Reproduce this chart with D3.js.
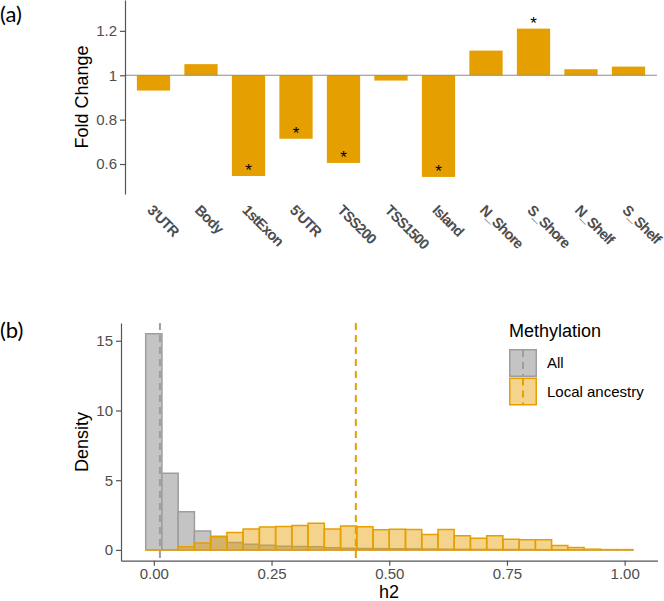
<!DOCTYPE html>
<html><head><meta charset="utf-8">
<script src="https://cdn.jsdelivr.net/npm/d3@7"></script>
<style>
html,body{margin:0;padding:0;background:#fff;}
svg{display:block;font-family:"Liberation Sans",Arial,sans-serif;}
</style></head>
<body><svg id="c" width="664" height="601"></svg>
<script>
// ---------- Panel (a) data ----------
const categories = ["3'UTR","Body","1stExon","5'UTR","TSS200","TSS1500","Island","N_Shore","S_Shore","N_Shelf","S_Shelf"];
const foldChange = [0.931,1.05,0.546,0.714,0.605,0.976,0.542,1.111,1.21,1.027,1.039];
const significant = [false,false,true,true,true,false,true,false,true,false,false];
const yTicksA = [0.6,0.8,1,1.2];
const yTickLabelsA = ["0.6","0.8","1","1.2"];

// ---------- Panel (b) data ----------
const nBins = 30;
const allDensity = [15.5,5.5,2.73,1.36,0.95,0.53,0.41,0.34,0.27,0.25,0.22,0.15,0.12,0.1,0.09,0.08,0.07,0.06,0.05,0.04,0.035,0.03,0.025,0.02,0.015,0.01,0.008,0.005,0.003,0.002];
const localDensity = [0,0.01,0.22,0.5,0.98,1.25,1.49,1.65,1.68,1.75,1.92,1.5,1.72,1.66,1.45,1.48,1.47,1.1,1.46,1.02,0.84,1.01,0.77,0.72,0.72,0.32,0.17,0.05,0.02,0.02];
const medians = {All:0.013, Local:0.429};
const xTicksB = [0,0.25,0.5,0.75,1];
const yTicksB = [0,5,10,15];
const legendLabels = ["All","Local ancestry"];

const ORANGE = "#E69F00";
const svg = d3.select("#c");

// ===== Panel (a) =====
const xA = d3.scaleBand().domain(categories).range([125,657]).paddingInner(0.3).paddingOuter(0.25);
const yA = d3.scaleLinear().domain([0.465,1.339]).range([194,0]);

svg.append("text").attr("x",0).attr("y",21.5).style("font-family","Lato, 'Open Sans', sans-serif")
  .style("font-size","22px").attr("fill","#000").text("(a)");

const gA = svg.append("g");
gA.selectAll("rect.bar").data(categories).join("rect")
  .attr("x",d=>xA(d)).attr("width",xA.bandwidth())
  .attr("y",(d,i)=>yA(Math.max(foldChange[i],1)))
  .attr("height",(d,i)=>Math.abs(yA(foldChange[i])-yA(1)))
  .attr("fill",ORANGE);

gA.append("line").attr("x1",125).attr("x2",657).attr("y1",yA(1)).attr("y2",yA(1))
  .attr("stroke","#8c8c8c").attr("stroke-width",1.2);

gA.selectAll("text.star").data(categories.filter((d,i)=>significant[i])).join("text")
  .attr("x",d=>xA(d)+xA.bandwidth()/2)
  .attr("y",d=>yA(foldChange[categories.indexOf(d)]))
  .attr("text-anchor","middle").style("font-size","17px").attr("fill","#000").text("*");

const axA = svg.append("g").attr("transform","translate(125,0)")
  .call(d3.axisLeft(yA).tickValues(yTicksA).tickFormat((d,i)=>yTickLabelsA[i]).tickSize(5).tickSizeOuter(0).tickPadding(3));
axA.select(".domain").attr("stroke","#555").attr("stroke-width",1.2);
axA.selectAll(".tick line").attr("stroke","#555").attr("stroke-width",1.2);
axA.selectAll(".tick text").attr("fill","#4D4D4D").style("font-size","15px").style("font-family","'Liberation Sans',Arial,sans-serif");

svg.append("text").attr("transform","translate(88,97) rotate(-90)").attr("text-anchor","middle")
  .style("font-size","18px").attr("fill","#000").text("Fold Change");

svg.selectAll("text.xlab").data(categories).join("text")
  .attr("transform",d=>`translate(${xA(d)+xA.bandwidth()/2-7},211) rotate(45)`)
  .attr("text-anchor","start").style("font-size","14.5px").style("font-weight","bold")
  .style("letter-spacing","-0.8px")
  .attr("fill","#4D4D4D").text(d=>d);

// ===== Panel (b) =====
const xB = d3.scaleLinear().domain([-0.0697,1.0697]).range([121,657.5]);
const yB = d3.scaleLinear().domain([-0.775,16.275]).range([560.7,323]);
const binW = 1/(nBins-1);
const binLo = i => i*binW - binW/2;
const binHi = i => i*binW + binW/2;

svg.append("text").attr("x",0).attr("y",338).style("font-family","Lato, 'Open Sans', sans-serif")
  .style("font-size","22px").attr("fill","#000").text("(b)");

function barPath(i, v){
  const p = d3.path();
  p.moveTo(xB(binLo(i)), yB(0));
  p.lineTo(xB(binLo(i)), yB(v));
  p.lineTo(xB(binHi(i)), yB(v));
  p.lineTo(xB(binHi(i)), yB(0));
  p.closePath();
  return p.toString();
}
const gB = svg.append("g");
gB.selectAll("path.all").data(allDensity).join("path")
  .attr("d",(v,i)=>barPath(i,v)).attr("fill","#C4C4C4").attr("stroke","#9E9E9E").attr("stroke-width",1.5);
gB.selectAll("path.loc").data(localDensity).join("path")
  .attr("d",(v,i)=>barPath(i,v)).attr("fill",ORANGE).attr("fill-opacity",0.45).attr("stroke",ORANGE).attr("stroke-width",1.5);

gB.append("line").attr("x1",xB(medians.All)).attr("x2",xB(medians.All)).attr("y1",323).attr("y2",560.7)
  .attr("stroke","#9E9E9E").attr("stroke-width",2).attr("stroke-dasharray","7,5");
gB.append("line").attr("x1",xB(medians.Local)).attr("x2",xB(medians.Local)).attr("y1",323).attr("y2",560.7)
  .attr("stroke",ORANGE).attr("stroke-width",2).attr("stroke-dasharray","7,5");

const axBy = svg.append("g").attr("transform","translate(121,0)")
  .call(d3.axisLeft(yB).tickValues(yTicksB).tickSize(5).tickSizeOuter(0).tickPadding(3));
const axBx = svg.append("g").attr("transform","translate(0,560.7)")
  .call(d3.axisBottom(xB).tickValues(xTicksB).tickFormat(d3.format(".2f")).tickSize(5).tickSizeOuter(0).tickPadding(3));
[axBy,axBx].forEach(a=>{
  a.select(".domain").attr("stroke","#555").attr("stroke-width",1.2);
  a.selectAll(".tick line").attr("stroke","#555").attr("stroke-width",1.2);
  a.selectAll(".tick text").attr("fill","#4D4D4D").style("font-size","15px").style("font-family","'Liberation Sans',Arial,sans-serif");
});

svg.append("text").attr("transform","translate(88,442) rotate(-90)").attr("text-anchor","middle")
  .style("font-size","18px").attr("fill","#000").text("Density");
svg.append("text").attr("x",389).attr("y",598).attr("text-anchor","middle")
  .style("font-size","18px").attr("fill","#000").text("h2");

// legend
const lg = svg.append("g").attr("transform","translate(509,0)");
lg.append("text").attr("x",0).attr("y",337).style("font-size","18px").attr("fill","#000").text("Methylation");
const keyFill = ["#C4C4C4", ORANGE], keyStroke = ["#9E9E9E", ORANGE], keyOp = [1,0.45];
legendLabels.forEach((lab,i)=>{
  const y0 = 349 + i*28.5;
  lg.append("rect").attr("x",0.75).attr("y",y0+0.75).attr("width",26.5).attr("height",26.5)
    .attr("fill",keyFill[i]).attr("fill-opacity",keyOp[i]).attr("stroke",keyStroke[i]).attr("stroke-width",1.5);
  lg.append("line").attr("x1",14).attr("x2",14).attr("y1",y0+1).attr("y2",y0+27)
    .attr("stroke",keyStroke[i]).attr("stroke-width",2).attr("stroke-dasharray","7,5");
  lg.append("text").attr("x",38).attr("y",y0+19).style("font-size","15px").attr("fill","#000").text(lab);
});
</script></body></html>
